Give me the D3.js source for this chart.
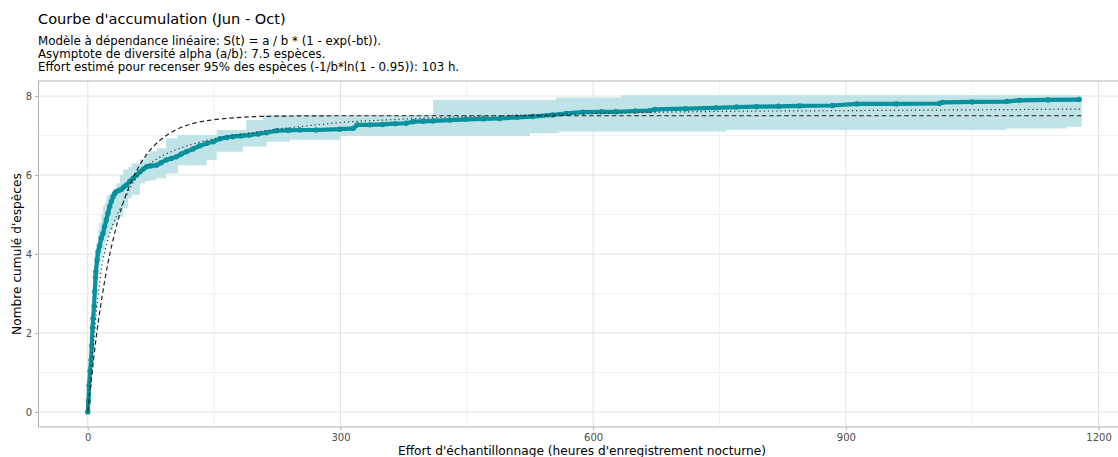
<!DOCTYPE html>
<html>
<head>
<meta charset="utf-8">
<script src="https://cdn.jsdelivr.net/npm/d3@7"></script>
<style>
  html, body { margin: 0; padding: 0; background: #fff; }
  text { font-family: "DejaVu Sans", sans-serif; }
</style>
</head>
<body>
<svg id="chart" width="1118" height="457"></svg>
<script>
// ---------- DATA ----------
const titleText = "Courbe d'accumulation (Jun - Oct)";
const subtitleLines = [
  "Modèle à dépendance linéaire: S(t) = a / b * (1 - exp(-bt)).",
  "Asymptote de diversité alpha (a/b): 7.5 espèces.",
  "Effort estimé pour recenser 95% des espèces (-1/b*ln(1 - 0.95)): 103 h."
];
const xAxisTitle = "Effort d'échantillonnage (heures d'enregistrement nocturne)";
const yAxisTitle = "Nombre cumulé d'espèces";
const xTicks = [0, 300, 600, 900, 1200];
const yTicks = [0, 2, 4, 6, 8];

// observed accumulation (effort in hours, cumulative species)
const obsEffort = [0, 0.8, 1.5, 2.7, 3.9, 4.7, 5.6, 6.3, 7.5, 8.3, 9.1, 9.5, 11, 12.2, 14, 16, 18, 20, 22, 24, 26, 28, 30, 32, 34, 37, 40, 43, 46, 50, 54, 58, 62, 66, 70, 75, 81.5, 87, 93, 99, 105, 111, 117, 125, 133, 141, 149, 157, 165, 172, 182, 192, 202, 212, 224, 238, 252, 271, 299, 315, 320, 335, 350, 365, 378, 386, 398, 410, 430, 449, 470, 489, 510, 528, 552, 568, 588, 610, 627, 650, 667, 673, 710, 746, 770, 794, 820, 845, 884, 913, 960, 1011, 1015, 1050, 1091, 1106, 1140, 1177];
const obsSpecies = [0, 0.28, 0.67, 1.03, 1.32, 1.68, 2.13, 2.37, 2.68, 3.05, 3.41, 3.55, 3.85, 4.06, 4.2, 4.4, 4.52, 4.7, 4.86, 5.03, 5.2, 5.33, 5.45, 5.53, 5.58, 5.61, 5.64, 5.7, 5.75, 5.84, 5.92, 6.0, 6.08, 6.15, 6.21, 6.23, 6.25, 6.31, 6.38, 6.42, 6.46, 6.53, 6.59, 6.66, 6.74, 6.8, 6.84, 6.92, 6.95, 6.97, 6.99, 7.01, 7.04, 7.07, 7.12, 7.13, 7.14, 7.14, 7.16, 7.18, 7.27, 7.27, 7.28, 7.3, 7.31, 7.35, 7.36, 7.37, 7.39, 7.41, 7.42, 7.43, 7.46, 7.48, 7.52, 7.56, 7.59, 7.6, 7.6, 7.62, 7.63, 7.66, 7.68, 7.7, 7.72, 7.73, 7.74, 7.75, 7.76, 7.8, 7.8, 7.81, 7.84, 7.85, 7.86, 7.89, 7.9, 7.91];

// confidence ribbon (step boundaries)
const ribEffort = [0, 1, 2, 3, 4, 5, 6, 7, 8, 9, 10, 12, 14, 16, 18, 20, 22, 24, 26, 30, 34, 38, 42, 48, 52, 62, 68, 74, 81.5, 93, 107, 141, 153, 184, 188, 208, 212, 240, 299, 410, 525, 556, 560, 633, 758, 1091, 1162, 1180];
const ribLower = [0, 0.2, 0.6, 0.9, 1.2, 1.5, 1.9, 2.2, 2.5, 2.9, 3.2, 3.5, 3.8, 3.9, 4.1, 4.3, 4.4, 4.5, 4.6, 4.75, 4.86, 4.94, 5.16, 5.41, 5.5, 5.79, 5.85, 5.87, 5.92, 6.04, 6.25, 6.38, 6.59, 6.72, 6.72, 6.72, 6.84, 6.89, 6.99, 6.99, 7.06, 7.06, 7.1, 7.1, 7.14, 7.18, 7.22, 7.22];
const ribUpper = [0.3, 0.9, 1.4, 1.8, 2.2, 2.6, 3.0, 3.3, 3.7, 4.0, 4.3, 4.6, 4.8, 5.0, 5.2, 5.3, 5.45, 5.5, 5.55, 5.65, 5.79, 6.0, 6.13, 6.2, 6.29, 6.4, 6.55, 6.6, 6.68, 6.93, 7.01, 7.01, 7.14, 7.14, 7.39, 7.52, 7.52, 7.52, 7.52, 7.9, 7.9, 7.96, 7.96, 8.02, 8.02, 8.02, 8.02, 8.02];

// fitted linear-dependence model (dashed)
const modelEffort = [0, 5, 10, 15, 20, 25, 30, 35, 40, 50, 60, 70, 80, 90, 100, 115, 130, 150, 175, 200, 250, 300, 1180];
const modelSpecies = [0, 0.97, 1.89, 2.65, 3.31, 3.88, 4.36, 4.78, 5.16, 5.75, 6.19, 6.52, 6.77, 6.95, 7.09, 7.24, 7.33, 7.40, 7.45, 7.48, 7.495, 7.5, 7.5];

// second fitted curve (dotted)
const altEffort = [0, 2, 4, 6, 8, 10, 12, 14, 16, 20, 25, 30, 35, 42, 52, 66, 81.5, 100, 121, 153, 192, 224, 263, 300, 360, 410, 500, 600, 750, 900, 1050, 1180];
const altSpecies = [0, 0.55, 1.1, 1.6, 2.0, 2.5, 2.9, 3.25, 3.6, 4.05, 4.45, 4.75, 5.0, 5.3, 5.75, 6.15, 6.4, 6.6, 6.76, 6.93, 7.06, 7.16, 7.25, 7.33, 7.4, 7.45, 7.51, 7.56, 7.61, 7.63, 7.65, 7.67];

// ---------- CHART ----------
const svg = d3.select("#chart");
const panel = { left: 38.5, right: 1125.5, top: 81, bottom: 427 };

const x = d3.scaleLinear().domain([-58.5, 1232]).range([panel.left, panel.right]);
const y = d3.scaleLinear().domain([-0.38, 8.38]).range([panel.bottom, panel.top]);

const teal = "#07929e";
const ribbonFill = "#bfe3e7";

// grid
const gridG = svg.append("g");
const xMinor = [150, 450, 750, 1050];
const yMinor = [1, 3, 5, 7];
gridG.selectAll(".xminor").data(xMinor).join("line")
  .attr("x1", d => x(d)).attr("x2", d => x(d))
  .attr("y1", panel.top).attr("y2", panel.bottom)
  .attr("stroke", "#ececec").attr("stroke-width", 0.7);
gridG.selectAll(".yminor").data(yMinor).join("line")
  .attr("y1", d => y(d)).attr("y2", d => y(d))
  .attr("x1", panel.left).attr("x2", panel.right)
  .attr("stroke", "#ececec").attr("stroke-width", 0.7);
gridG.selectAll(".xmajor").data(xTicks).join("line")
  .attr("x1", d => x(d)).attr("x2", d => x(d))
  .attr("y1", panel.top).attr("y2", panel.bottom)
  .attr("stroke", "#e2e2e2").attr("stroke-width", 1);
gridG.selectAll(".ymajor").data(yTicks).join("line")
  .attr("y1", d => y(d)).attr("y2", d => y(d))
  .attr("x1", panel.left).attr("x2", panel.right)
  .attr("stroke", "#e2e2e2").attr("stroke-width", 1);

// ribbon
const ribData = ribEffort.map((t, i) => ({ t, lo: ribLower[i], hi: ribUpper[i] }));
svg.append("path")
  .datum(ribData)
  .attr("fill", ribbonFill)
  .attr("d", d3.area().curve(d3.curveStepAfter)
    .x(d => x(d.t)).y0(d => y(d.lo)).y1(d => y(d.hi)));

// observed line + points
const obsData = obsEffort.map((t, i) => ({ t, s: obsSpecies[i] }));
svg.append("path")
  .datum(obsData)
  .attr("fill", "none")
  .attr("stroke", teal)
  .attr("stroke-width", 4.2)
  .attr("stroke-linejoin", "round")
  .attr("stroke-linecap", "round")
  .attr("d", d3.line().x(d => x(d.t)).y(d => y(d.s)));
svg.append("g").selectAll("circle").data(obsData).join("circle")
  .attr("cx", d => x(d.t)).attr("cy", d => y(d.s))
  .attr("r", 2.7).attr("fill", teal);

// model curves
const modelData = modelEffort.map((t, i) => ({ t, s: modelSpecies[i] }));
svg.append("path")
  .datum(modelData)
  .attr("fill", "none")
  .attr("stroke", "#222")
  .attr("stroke-width", 1.2)
  .attr("stroke-dasharray", "4.5,3")
  .attr("d", d3.line().curve(d3.curveMonotoneX).x(d => x(d.t)).y(d => y(d.s)));

const altData = altEffort.map((t, i) => ({ t, s: altSpecies[i] }));
svg.append("path")
  .datum(altData)
  .attr("fill", "none")
  .attr("stroke", "#333")
  .attr("stroke-width", 1.2)
  .attr("stroke-dasharray", "1.2,3")
  .attr("d", d3.line().curve(d3.curveMonotoneX).x(d => x(d.t)).y(d => y(d.s)));

// panel border
svg.append("rect")
  .attr("x", panel.left).attr("y", panel.top)
  .attr("width", panel.right - panel.left).attr("height", panel.bottom - panel.top)
  .attr("fill", "none").attr("stroke", "#b3b3b3").attr("stroke-width", 1);

// axes
const xAxis = svg.append("g")
  .attr("transform", `translate(0,${panel.bottom})`)
  .call(d3.axisBottom(x).tickValues(xTicks).tickSize(3.5).tickPadding(3).tickFormat(d3.format("d")));
const yAxis = svg.append("g")
  .attr("transform", `translate(${panel.left},0)`)
  .call(d3.axisLeft(y).tickValues(yTicks).tickSize(3.5).tickPadding(3).tickFormat(d3.format("d")));
[xAxis, yAxis].forEach(g => {
  g.select(".domain").remove();
  g.selectAll(".tick line").attr("stroke", "#b3b3b3");
  g.selectAll(".tick text").attr("fill", "#4d4d4d")
    .style("font-family", "DejaVu Sans").style("font-size", "10px");
});

// titles
svg.append("text").attr("x", 38).attr("y", 24)
  .style("font-size", "14.6px").attr("fill", "#000").text(titleText);
svg.append("g").selectAll("text").data(subtitleLines).join("text")
  .attr("x", 38).attr("y", (d, i) => 44.5 + i * 13.2)
  .style("font-size", "11.8px").attr("fill", "#000").text(d => d);

svg.append("text")
  .attr("x", (panel.left + panel.right) / 2).attr("y", 455)
  .attr("text-anchor", "middle")
  .style("font-size", "12.2px").attr("fill", "#000").text(xAxisTitle);
svg.append("text")
  .attr("transform", `translate(21,${(panel.top + panel.bottom) / 2}) rotate(-90)`)
  .attr("text-anchor", "middle")
  .style("font-size", "12.2px").attr("fill", "#000").text(yAxisTitle);
</script>
</body>
</html>
